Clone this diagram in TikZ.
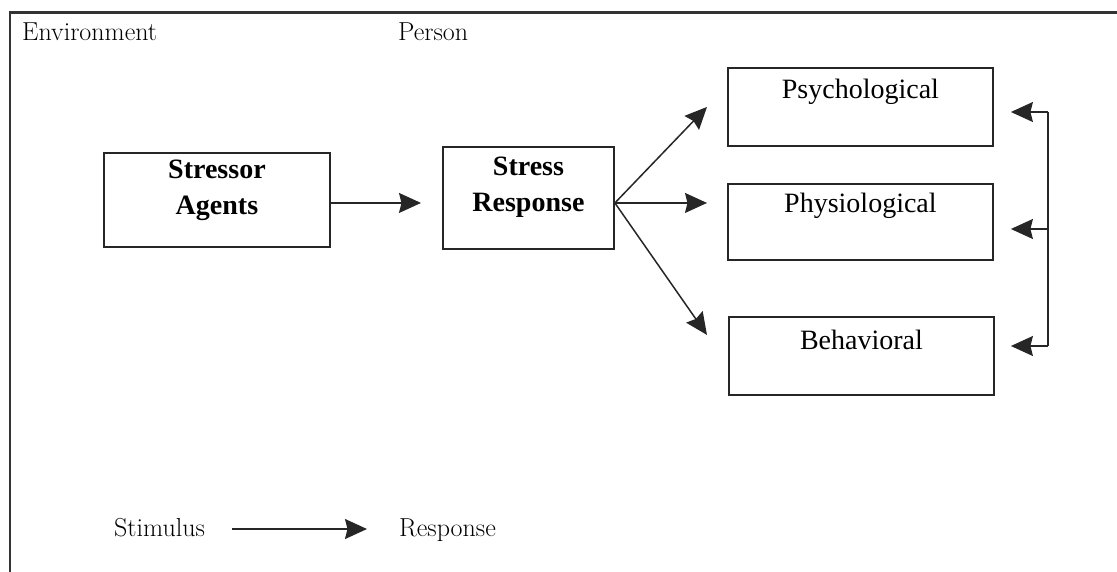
\documentclass[tikz,border=0pt]{standalone}
\usepackage{fontspec}
\newfontfamily\boxfont{Liberation Serif}
\usetikzlibrary{arrows.meta}
\begin{document}
\begin{tikzpicture}[x=1pt,y=-1pt,
  stagebox/.style={draw=black!85, line width=1.9pt, inner sep=0pt,
    anchor=north west, align=center},
  boldtext/.style={font=\boxfont\bfseries\fontsize{28}{36.5}\selectfont},
  plaintext/.style={font=\boxfont\fontsize{28}{34}\selectfont},
  caption/.style={inner sep=0pt, anchor=base west, text height=15.4pt,
    text depth=0pt, font=\fontsize{26}{30}\selectfont},
  arr/.style={line width=1.5pt, draw=black!85,
    -{Stealth[length=22pt,width=20pt,inset=2.5pt]}},
  link/.style={line width=1.5pt, draw=black!85}]

\useasboundingbox (0,0) rectangle (1117,571);
\clip (0,0) rectangle (1117,571);

% outer frame (runs off the right and bottom edges)
\draw[line width=2.2pt, black!80] (10,600) -- (10,12.5) -- (1140,12.5);

% headings
\node[caption] (env) at (22,40.7) {Environment};
\node[caption] (per) at (398,40.7) {Person};

% stages (the base line of a two-line node is its last line)
\node[stagebox, boldtext, minimum width=226pt, text height=62pt, text depth=32pt]
  (sa) at (103,152) {Stressor\\Agents};
\node[stagebox, boldtext, minimum width=171pt, text height=65pt, text depth=37pt]
  (sr) at (442,146) {Stress\\Response};

% response types
\node[stagebox, plaintext, minimum width=265pt, text height=31pt, text depth=47pt]
  (psy) at (727,67) {Psychological};
\node[stagebox, plaintext, minimum width=265pt, text height=29pt, text depth=47pt]
  (phy) at (727,183) {Physiological};
\node[stagebox, plaintext, minimum width=265pt, text height=33pt, text depth=45pt]
  (beh) at (728,316) {Behavioral};

% stressor -> response
\draw[arr, shorten >=21pt] ([yshift=-3pt]sa.east) -- ([yshift=-3pt]sa.east -| sr.west);

% fan out to the three response types
\coordinate (fan) at ([yshift=-5pt]sr.east);
\draw[arr] (fan) -- ([xshift=-20pt]psy.west);
\draw[arr] (fan) -- ([xshift=-20pt,yshift=19pt]phy.west);
\draw[arr] (fan) -- ([xshift=-21pt,yshift=21pt]beh.west);

% feedback bus on the right
\coordinate (fbtop) at (1048,112);
\coordinate (fbmid) at (1048,229);
\coordinate (fbbot) at (1048,346);
\draw[link] (fbtop) -- (fbbot);
\draw[arr, shorten >=17pt] (fbtop) -- (fbtop -| psy.east);
\draw[arr, shorten >=17pt] (fbmid) -- (fbmid -| phy.east);
\draw[arr, shorten >=16pt] (fbbot) -- (fbbot -| beh.east);

% legend
\node[caption] (stim) at (114,536.7) {Stimulus};
\node[caption] (resp) at (399,536.7) {Response};
\draw[arr, shorten <=27pt, shorten >=32pt] (stim.east) -- (resp.west);

\end{tikzpicture}
\end{document}
